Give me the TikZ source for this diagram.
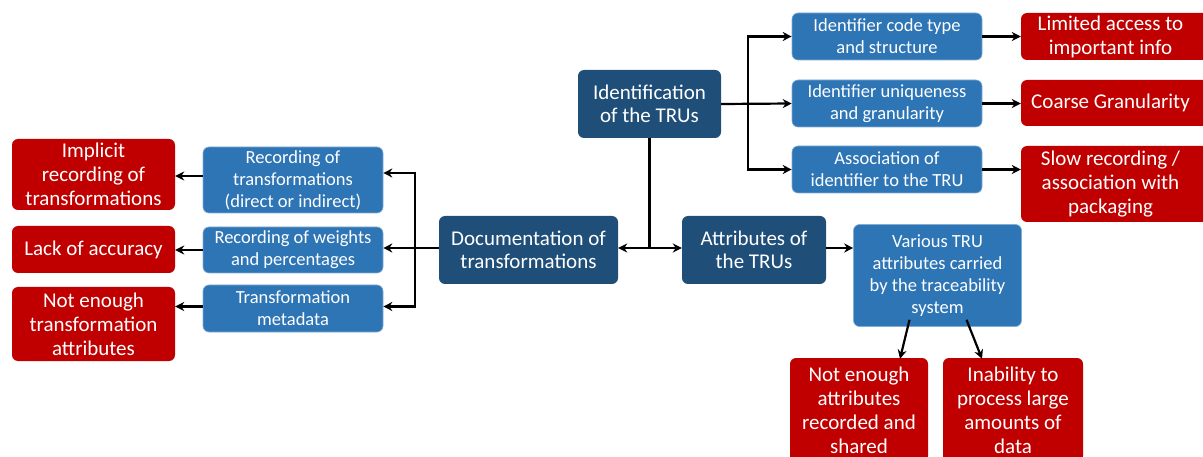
\documentclass[tikz,border=0pt]{standalone}
\usepackage{fontspec}
\setmainfont{Carlito}
\usetikzlibrary{arrows.meta}
\definecolor{topicblue}{RGB}{31,78,121}
\definecolor{aspectblue}{RGB}{46,117,182}
\definecolor{issuered}{RGB}{192,0,0}
\tikzstyle{box}=[rounded corners=6pt,inner sep=0pt,align=center,text=white]
\tikzstyle{topic}=[box,fill=topicblue,font=\fontsize{21}{23.5}\selectfont]
\tikzstyle{aspect}=[box,fill=aspectblue,draw=aspectblue!60!white,line width=0.6pt,font=\fontsize{18.5}{22}\selectfont]
\tikzstyle{issue}=[box,fill=issuered,font=\fontsize{21}{24}\selectfont]
\tikzstyle{link}=[line width=2.2pt,-{Stealth[length=9pt,width=9pt]}]

\begin{document}
\begin{tikzpicture}[x=1pt,y=-1pt]
\useasboundingbox (0,0) rectangle (1203,457);
\node [topic,minimum width=143,minimum height=68] (ident) at (649.5,104) {Identification\\of the TRUs};
\node [topic,minimum width=179,minimum height=68] (doc) at (528.5,250) {Documentation of\\transformations};
\node [topic,minimum width=144,minimum height=68] (attr) at (754,250) {Attributes of\\the TRUs};

\node [aspect,minimum width=190,minimum height=47] (idcode) at (887,36.5) {Identifier code type\\and structure};
\node [aspect,minimum width=190,minimum height=47] (idunique) at (887,103.5) {Identifier uniqueness\\and granularity};
\node [aspect,minimum width=190,minimum height=47] (assoc) at (887,169.5) {Association of\\identifier to the TRU};
\node [issue,minimum width=189,minimum height=47] (access) at (1115.5,36.5) {\hspace*{-10pt}Limited access to\\\hspace*{-10pt}important info};
\node [issue,minimum width=189,minimum height=46] (coarse) at (1115.5,103) {\hspace*{-10pt}Coarse Granularity};
\node [issue,minimum width=189,minimum height=76] (slow) at (1115.5,184) {\hspace*{-10pt}Slow recording /\\\hspace*{-10pt}association with\\\hspace*{-10pt}packaging};

\node [aspect,minimum width=180,minimum height=66] (rectrans) at (293,180) {Recording of\\transformations\\(direct or indirect)};
\node [aspect,minimum width=180,minimum height=46] (recweight) at (293,250) {Recording of weights\\and percentages};
\node [aspect,minimum width=180,minimum height=47] (metadata) at (293,308.5) {Transformation\\metadata};
\node [issue,minimum width=163,minimum height=71] (implicit) at (93.5,174.5) {Implicit\\recording of\\transformations};
\node [issue,minimum width=163,minimum height=47] (accuracy) at (93.5,249.5) {Lack of accuracy};
\node [issue,minimum width=163,minimum height=74] (notenough) at (93.5,324) {Not enough\\transformation\\attributes};

\node [aspect,minimum width=168,minimum height=102] (various) at (937.5,275.5) {Various TRU\\attributes carried\\by the traceability\\system};
\node [issue,minimum width=138,minimum height=104] (notshared) at (859,410) {Not enough\\attributes\\recorded and\\shared};
\node [issue,minimum width=140,minimum height=104] (inability) at (1013,410) {Inability to\\process large\\amounts of\\data};

\draw [link] (ident.east) -- ([xshift=27pt]ident.east) |- (idcode.west);
\draw [link] (ident.east) -- (idunique.west);
\draw [link] ([xshift=27pt]ident.east) |- (assoc.west);
\draw [link] (idcode.east) -- (idcode.east -| access.west);
\draw [link] (idunique.east) -- (idunique.east -| coarse.west);
\draw [link] (assoc.east) -- (assoc.east -| slow.west);

\draw [link] (ident.south) |- ([yshift=2pt]doc.east);
\draw [link] (ident.south) |- ([yshift=2pt]attr.west);
\draw [link] ([yshift=2pt]attr.east) -- ([yshift=2pt]attr.east -| various.west);

\draw [link] ([yshift=2pt]doc.west) -- ([xshift=-24pt,yshift=2pt]doc.west) |- ([yshift=7pt]rectrans.east);
\draw [link] ([yshift=2pt]doc.west) -- ([yshift=2pt]recweight.east);
\draw [link] ([xshift=-24pt,yshift=2pt]doc.west) |- ([yshift=2pt]metadata.east);
\draw [link] ([yshift=4pt]rectrans.west) -- ([yshift=4pt]rectrans.west -| implicit.east);
\draw [link] (recweight.west) -- (recweight.west -| accuracy.east);
\draw [link] ([yshift=2pt]metadata.west) -- ([yshift=2pt]metadata.west -| notenough.east);

\draw [link] ([xshift=-28pt,yshift=7pt]various.south) -- ([xshift=41pt,yshift=-1pt]notshared.north);
\draw [link] ([xshift=29pt,yshift=7pt]various.south) -- ([xshift=-31pt,yshift=-1pt]inability.north);
\end{tikzpicture}
\end{document}
